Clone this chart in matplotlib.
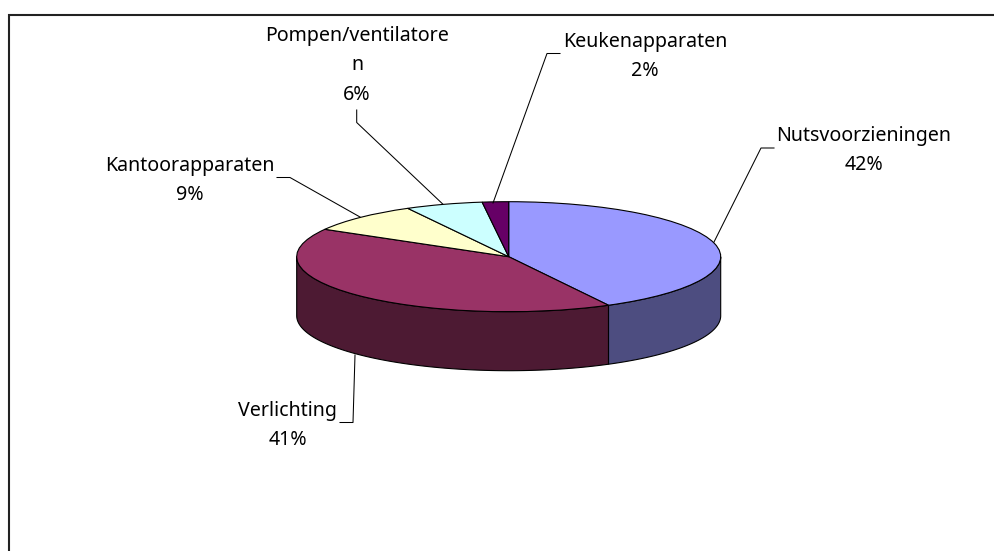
import numpy as np
import matplotlib
matplotlib.use("Agg")
import matplotlib.pyplot as plt

# Data
categories = ["Nutsvoorzieningen", "Verlichting", "Kantoorapparaten", "Pompen/ventilatore\nn", "Keukenapparaten"]
values = [42.2, 41.1, 8.8, 5.9, 2.0]
top_colors = ["#9999FF", "#993366", "#FFFFCC", "#CCFFFF", "#660066"]
side_colors = ["#4D4D80", "#4D1A33", "#808066", "#668080", "#330033"]

# label centre x and first baseline y, in pixels
label_pos = [(863.7, 141), (287.5, 416), (189.7, 171), (357, 41.5), (645, 46.5)]
leaders = [
    [(774, 148), (761, 148), (714, 242)],
    [(340, 422.5), (353, 422.5), (355, 355)],
    [(277, 177.5), (290, 177.5), (360, 217)],
    [(356.7, 110), (356.7, 122.5), (442.7, 204)],
    [(560, 53.5), (547, 53.5), (493, 203)],
]

W, H = 994, 551
CX, CY = 508.7, 256.7
RX, RY = 212, 55
DEPTH = 59 / RY

fig = plt.figure(figsize=(W / 100, H / 100), dpi=100)

# pie axes, squashed so the circle becomes the ellipse
ax = fig.add_axes([0, 0, 1, 1])
ax.pie(
    values,
    colors=top_colors,
    startangle=90,
    counterclock=False,
    radius=1,
    wedgeprops={"edgecolor": "black", "linewidth": 0.8, "zorder": 3},
)
ax.set_aspect("auto")
ax.set_xlim(-CX / RX, (W - CX) / RX)
ax.set_ylim(-(H - CY) / RY, CY / RY)
ax.axis("off")

# side walls of the slices on the front half
edges = np.cumsum([0] + values) / sum(values) * 2 * np.pi
for start, end, c in zip(edges[:-1], edges[1:], side_colors):
    a = max(start, np.pi / 2)
    b = min(end, 3 * np.pi / 2)
    if b <= a:
        continue
    t = np.linspace(a, b, 120)
    xs = np.sin(t)
    ys = np.cos(t)
    ax.fill(
        np.r_[xs, xs[::-1]],
        np.r_[ys, ys[::-1] - DEPTH],
        facecolor=c,
        edgecolor="black",
        linewidth=0.8,
        zorder=2,
    )

# overlay in pixel coordinates for frame, leaders, labels
over = fig.add_axes([0, 0, 1, 1], facecolor="none")
over.set_xlim(0, W)
over.set_ylim(H, 0)
over.axis("off")

over.plot([9, 9, W], [H, 15, 15], color="#222222", linewidth=1.5, solid_joinstyle="miter")

for pts in leaders:
    over.plot(*zip(*pts), color="black", linewidth=0.75)

for name, v, (x, y) in zip(categories, values, label_pos):
    lines = name.split("\n") + [f"{v:.0f}%"]
    for i, line in enumerate(lines):
        over.text(x, y + i * 29, line, ha="center", va="baseline",
                  family="Noto Sans", fontsize=14.1, color="black")

fig.savefig("out.png", dpi=100)
plt.close()
